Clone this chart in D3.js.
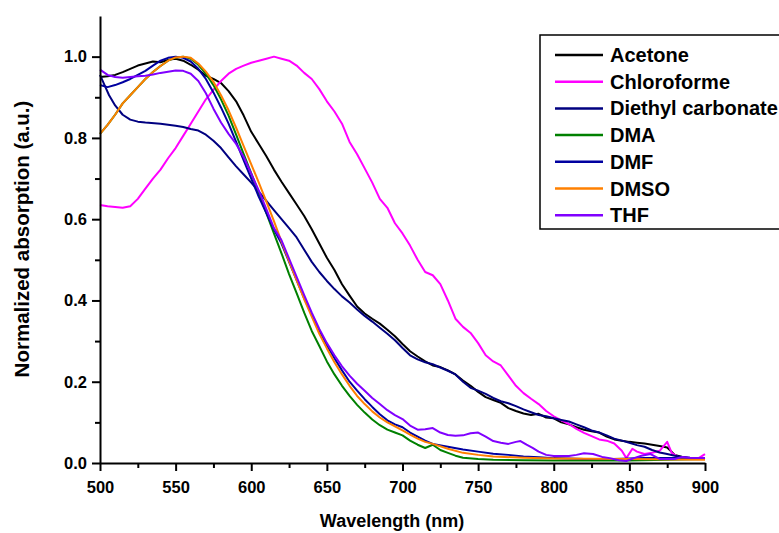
<!doctype html>
<html>
  <head>
    <title>Normalized absorption</title>
    <script src="https://d3js.org/d3.v7.min.js"></script>
    <style>
      body { margin: 0; background: #fff; }
      svg { display: block; font-family: "Liberation Sans", Arial, sans-serif; }
      path.curve { fill: none; stroke-width: 2; stroke-linejoin: round; }
      .axis path, .axis line { stroke: #000; stroke-width: 2; }
      .tick-label { font-size: 16.5px; font-weight: bold; }
      .x-title { font-size: 18px; font-weight: bold; }
      .y-title { font-size: 20.5px; font-weight: bold; }
      .legend-text { font-size: 20px; font-weight: bold; }
    </style>
  </head>
  <body>
    <div id="viz">
      <svg width="779" height="533"></svg>
    </div>
    <script>
      // [wavelength (nm), normalized absorption]
      var acetone = [[500,0.950],[505,0.952],[510,0.955],[515,0.962],[520,0.970],[525,0.978],[530,0.983],[535,0.988],[540,0.986],[545,0.992],[550,0.995],[555,0.990],[560,0.980],[565,0.968],[570,0.953],[575,0.945],[580,0.935],[585,0.915],[590,0.890],[595,0.855],[600,0.815],[605,0.785],[610,0.755],[615,0.722],[620,0.692],[625,0.664],[630,0.636],[635,0.608],[640,0.575],[645,0.540],[650,0.505],[655,0.475],[660,0.440],[665,0.412],[670,0.385],[675,0.368],[680,0.355],[685,0.343],[690,0.328],[695,0.312],[700,0.293],[705,0.275],[710,0.262],[715,0.250],[720,0.240],[725,0.236],[730,0.228],[735,0.218],[740,0.203],[745,0.190],[750,0.175],[755,0.162],[760,0.155],[765,0.148],[770,0.135],[775,0.128],[780,0.122],[785,0.118],[790,0.121],[795,0.112],[800,0.110],[805,0.100],[810,0.095],[815,0.088],[820,0.082],[825,0.078],[830,0.075],[835,0.065],[840,0.058],[845,0.055],[850,0.052],[855,0.050],[860,0.048],[865,0.045],[870,0.042],[875,0.038],[880,0.020],[885,0.015],[890,0.012],[895,0.010],[900,0.012]];
      var chloroforme = [[500,0.635],[505,0.632],[510,0.630],[515,0.628],[520,0.632],[525,0.650],[530,0.675],[535,0.700],[540,0.722],[545,0.750],[550,0.775],[555,0.805],[560,0.835],[565,0.865],[570,0.895],[575,0.918],[580,0.940],[585,0.958],[590,0.970],[595,0.978],[600,0.985],[605,0.990],[610,0.995],[615,1.000],[620,0.995],[625,0.990],[630,0.978],[635,0.960],[640,0.945],[645,0.920],[650,0.890],[655,0.865],[660,0.835],[665,0.790],[670,0.760],[675,0.725],[680,0.690],[685,0.650],[690,0.628],[695,0.590],[700,0.565],[705,0.535],[710,0.500],[715,0.470],[720,0.462],[725,0.440],[730,0.400],[735,0.355],[740,0.335],[745,0.320],[750,0.295],[755,0.265],[760,0.250],[765,0.240],[770,0.215],[775,0.190],[780,0.172],[785,0.158],[790,0.145],[795,0.128],[800,0.115],[805,0.105],[810,0.096],[815,0.084],[820,0.074],[825,0.066],[830,0.058],[835,0.055],[840,0.048],[845,0.030],[848,0.012],[852,0.035],[855,0.028],[860,0.022],[865,0.025],[870,0.030],[875,0.052],[878,0.025],[882,0.015],[888,0.012],[895,0.010],[900,0.022]];
      var diethylCarbonate = [[500,0.955],[503,0.930],[506,0.905],[510,0.880],[515,0.857],[520,0.845],[525,0.840],[530,0.838],[540,0.835],[550,0.830],[555,0.827],[560,0.822],[565,0.818],[570,0.808],[575,0.793],[580,0.775],[585,0.752],[590,0.730],[595,0.710],[600,0.690],[605,0.668],[610,0.645],[615,0.622],[620,0.600],[625,0.578],[630,0.555],[635,0.525],[640,0.495],[645,0.470],[650,0.448],[655,0.428],[660,0.410],[665,0.395],[670,0.378],[675,0.362],[680,0.348],[685,0.333],[690,0.318],[695,0.302],[700,0.283],[705,0.265],[710,0.255],[715,0.248],[720,0.243],[725,0.235],[730,0.227],[735,0.218],[740,0.200],[745,0.185],[750,0.178],[755,0.170],[760,0.160],[765,0.152],[770,0.147],[775,0.140],[780,0.132],[785,0.125],[790,0.118],[795,0.115],[800,0.110],[805,0.106],[810,0.102],[815,0.095],[820,0.088],[825,0.080],[830,0.075],[835,0.068],[840,0.060],[845,0.055],[850,0.050],[855,0.044],[860,0.040],[865,0.032],[870,0.026],[875,0.022],[880,0.018],[885,0.015],[890,0.013],[895,0.012],[900,0.012]];
      var dma = [[500,0.810],[505,0.832],[510,0.857],[515,0.885],[520,0.905],[525,0.925],[530,0.945],[535,0.962],[540,0.977],[545,0.990],[550,0.998],[555,1.000],[560,0.995],[565,0.980],[570,0.958],[575,0.930],[580,0.895],[585,0.855],[590,0.808],[595,0.760],[600,0.713],[605,0.665],[610,0.615],[615,0.565],[620,0.516],[625,0.465],[630,0.418],[635,0.370],[640,0.325],[645,0.288],[650,0.250],[655,0.218],[660,0.190],[665,0.165],[670,0.143],[675,0.124],[680,0.107],[685,0.093],[690,0.082],[695,0.075],[700,0.068],[705,0.055],[710,0.045],[715,0.037],[720,0.045],[725,0.032],[730,0.025],[735,0.018],[740,0.013],[750,0.010],[760,0.008],[780,0.007],[800,0.006],[850,0.006],[900,0.010]];
      var dmf = [[500,0.930],[505,0.925],[510,0.930],[515,0.937],[520,0.945],[525,0.955],[530,0.965],[535,0.978],[540,0.990],[545,0.997],[550,1.000],[555,0.997],[560,0.988],[565,0.970],[570,0.945],[575,0.912],[580,0.875],[585,0.835],[590,0.790],[595,0.745],[600,0.700],[605,0.655],[610,0.615],[615,0.575],[620,0.540],[625,0.495],[630,0.450],[635,0.405],[640,0.365],[645,0.325],[650,0.290],[655,0.258],[660,0.228],[665,0.200],[670,0.178],[675,0.157],[680,0.138],[685,0.120],[690,0.105],[695,0.095],[700,0.088],[705,0.075],[710,0.065],[715,0.055],[720,0.047],[730,0.040],[740,0.033],[750,0.028],[760,0.023],[770,0.020],[780,0.016],[790,0.014],[800,0.012],[820,0.010],[840,0.010],[860,0.012],[880,0.012],[900,0.012]];
      var dmso = [[500,0.810],[505,0.832],[510,0.857],[515,0.885],[520,0.905],[525,0.925],[530,0.945],[535,0.962],[540,0.977],[545,0.990],[550,0.998],[555,1.000],[560,0.997],[565,0.983],[570,0.963],[575,0.938],[580,0.905],[585,0.868],[590,0.825],[595,0.780],[600,0.735],[605,0.690],[610,0.643],[615,0.595],[620,0.545],[625,0.497],[630,0.450],[635,0.403],[640,0.360],[645,0.318],[650,0.282],[655,0.248],[660,0.218],[665,0.190],[670,0.165],[675,0.145],[680,0.127],[685,0.112],[690,0.100],[695,0.090],[700,0.080],[705,0.070],[710,0.060],[715,0.052],[720,0.047],[730,0.035],[740,0.025],[750,0.020],[760,0.016],[780,0.013],[800,0.011],[850,0.010],[900,0.008]];
      var thf = [[500,0.968],[505,0.955],[510,0.950],[515,0.948],[520,0.950],[525,0.952],[530,0.953],[535,0.956],[540,0.960],[545,0.963],[550,0.966],[555,0.965],[560,0.958],[565,0.940],[570,0.910],[575,0.872],[580,0.838],[585,0.810],[590,0.785],[595,0.753],[600,0.712],[605,0.670],[610,0.625],[615,0.578],[620,0.548],[625,0.503],[630,0.458],[635,0.413],[640,0.370],[645,0.330],[650,0.295],[655,0.265],[660,0.238],[665,0.215],[670,0.195],[675,0.178],[680,0.160],[685,0.145],[690,0.130],[695,0.118],[700,0.108],[705,0.092],[710,0.082],[715,0.083],[720,0.086],[725,0.075],[730,0.069],[735,0.067],[740,0.068],[745,0.073],[750,0.075],[755,0.065],[760,0.054],[765,0.050],[770,0.047],[775,0.052],[778,0.054],[782,0.045],[786,0.037],[790,0.028],[795,0.020],[800,0.017],[810,0.017],[815,0.020],[820,0.024],[826,0.022],[832,0.015],[837,0.012],[843,0.007],[848,0.005],[853,0.012],[858,0.018],[864,0.022],[870,0.010],[880,0.010],[885,0.015],[890,0.013],[900,0.012]];

      var seriesNames = ["Acetone", "Chloroforme", "Diethyl carbonate", "DMA", "DMF", "DMSO", "THF"];
      var seriesData = [acetone, chloroforme, diethylCarbonate, dma, dmf, dmso, thf];
      var seriesColors = ["#000000", "#ff00ff", "#000080", "#008000", "#0000a0", "#ff8000", "#8000ff"];

      var xTicks = [500, 550, 600, 650, 700, 750, 800, 850, 900];
      var yTicks = [0.0, 0.2, 0.4, 0.6, 0.8, 1.0];

      var svg = d3.select("svg");

      var x = d3.scaleLinear().domain([500, 900]).range([100, 705]);
      var y = d3.scaleLinear().domain([0, 1.1]).range([463, 16]);

      var line = d3.line()
        .x(d => x(d[0]))
        .y(d => y(d[1]));

      svg.selectAll("path.curve").data(seriesData)
        .enter()
        .append("path")
          .attr("class", "curve")
          .attr("stroke", (d, i) => seriesColors[i])
          .attr("d", line);

      // minor ticks first, then the major axes on top
      var xMinor = d3.axisBottom(x).tickValues(d3.range(525, 900, 50)).tickSize(5).tickFormat("");
      var yMinor = d3.axisLeft(y).tickValues([0.1, 0.3, 0.5, 0.7, 0.9]).tickSize(5).tickFormat("");

      svg.append("g").attr("class", "axis").attr("transform", "translate(0,463)").call(xMinor)
        .select(".domain").remove();
      svg.append("g").attr("class", "axis").attr("transform", "translate(100,0)").call(yMinor)
        .select(".domain").remove();

      var xAxis = svg.append("g")
        .attr("class", "axis")
        .attr("transform", "translate(0,463)")
        .call(d3.axisBottom(x).tickValues(xTicks).tickSize(8).tickSizeOuter(0).tickPadding(10));
      xAxis.selectAll("text").attr("class", "tick-label").attr("fill", "#000");

      var yAxis = svg.append("g")
        .attr("class", "axis")
        .attr("transform", "translate(100,0)")
        .call(d3.axisLeft(y).tickValues(yTicks).tickSize(8).tickSizeOuter(0).tickPadding(5).tickFormat(d3.format(".1f")));
      yAxis.selectAll("text").attr("class", "tick-label").attr("fill", "#000");

      svg.append("text")
        .attr("class", "x-title")
        .attr("x", 392)
        .attr("y", 527)
        .attr("text-anchor", "middle")
        .text("Wavelength (nm)");

      svg.append("text")
        .attr("class", "y-title")
        .attr("transform", "translate(29,239) rotate(-90)")
        .attr("text-anchor", "middle")
        .text("Normalized absorption (a.u.)");

      // legend
      var legend = svg.append("g").attr("transform", "translate(540,35)");
      legend.append("rect")
        .attr("width", 260)
        .attr("height", 194)
        .attr("fill", "#fff")
        .attr("stroke", "#000")
        .attr("stroke-width", 1.5);

      var rows = legend.selectAll("g.row").data(seriesNames)
        .enter()
        .append("g")
          .attr("class", "row")
          .attr("transform", (d, i) => "translate(0," + (20 + i * 26.7) + ")");
      rows.append("line")
        .attr("x1", 15).attr("x2", 63)
        .attr("stroke-width", 2.5)
        .attr("stroke", (d, i) => seriesColors[i]);
      rows.append("text")
        .attr("class", "legend-text")
        .attr("x", 70)
        .attr("y", 7)
        .text(d => d);
    </script>
  </body>
</html>
